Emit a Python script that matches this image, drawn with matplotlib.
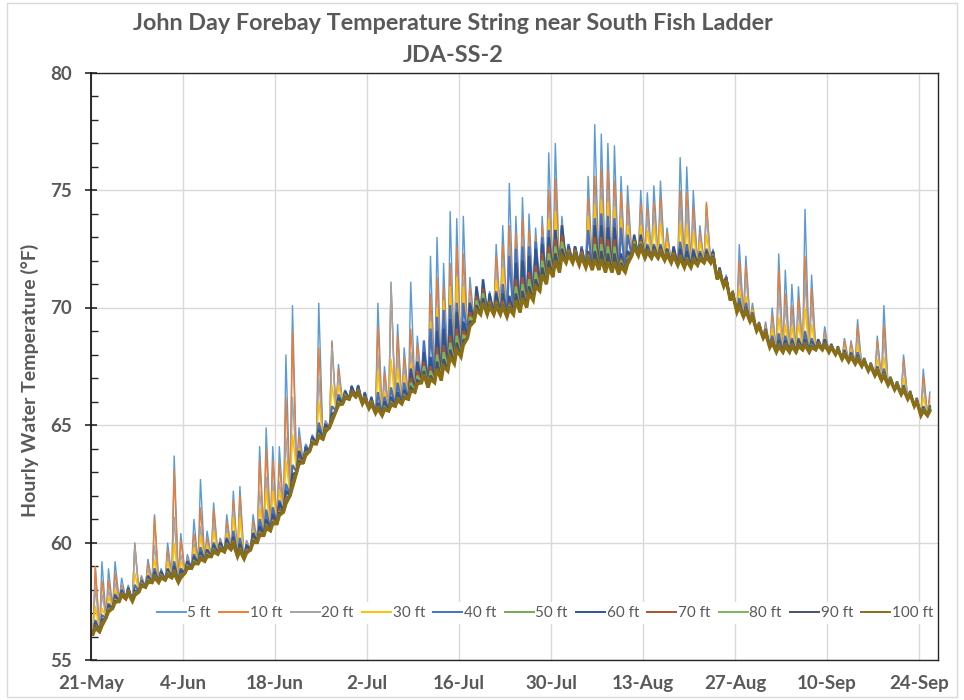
import numpy as np
import pandas as pd
import matplotlib
matplotlib.use("Agg")
import matplotlib.pyplot as plt
import matplotlib.dates as mdates
from matplotlib.patches import Rectangle

# ---------------- data ----------------
start_date = "2021-05-21"
n_days = 128

series_labels = ["5 ft", "10 ft", "20 ft", "30 ft", "40 ft", "50 ft",
                 "60 ft", "70 ft", "80 ft", "90 ft", "100 ft"]
series_colors = ["#5B9BD5", "#ED7D31", "#A5A5A5", "#FFC000", "#4472C4", "#70AD47",
                 "#2F5597", "#A9532A", "#7CB65A", "#44546A", "#8B6D14"]

# daily night-time (minimum) temperature, deg F
t_base = [56.1, 56.2, 56.8, 57.2, 57.5, 57.6, 57.5, 57.9, 58.1, 58.3,
          58.3, 58.4, 58.5, 58.3, 58.7, 58.9, 59.1, 59.2, 59.4, 59.5,
          59.6, 59.7, 59.4, 59.3, 59.7, 60.0, 60.3, 60.5, 60.8, 61.3,
          62.0, 63.0, 63.4, 63.9, 64.2, 64.4, 64.9, 65.6, 65.9, 66.1,
          66.2, 65.9, 65.7, 65.5, 65.4, 65.6, 65.8, 65.9, 66.1, 66.4,
          66.8, 66.6, 66.8, 66.9, 67.3, 67.6, 67.9, 68.7, 69.4, 69.7,
          69.7, 69.7, 69.7, 69.6, 69.7, 69.8, 70.0, 70.3, 70.7, 71.0,
          71.3, 71.5, 71.9, 71.9, 71.8, 71.7, 71.6, 71.6, 71.5, 71.5,
          71.4, 71.5, 72.2, 72.2, 72.1, 72.1, 72.1, 72.0, 71.9, 71.8,
          71.7, 71.7, 71.8, 71.9, 71.9, 71.2, 70.9, 70.3, 69.8, 69.6,
          69.4, 69.0, 68.7, 68.3, 68.1, 68.1, 68.1, 68.1, 68.2, 68.1,
          68.2, 68.2, 68.1, 68.0, 67.8, 67.7, 67.6, 67.5, 67.3, 67.1,
          66.9, 66.7, 66.5, 66.3, 66.1, 65.8, 65.4, 65.4]

# daily afternoon rise above the night value, deg F (shallow sensors, daily)
rise_5ft = [2.8, 3.0, 2.1, 2.0, 1.0, 0.6, 2.5, 0.7, 1.2, 2.9,
            0.6, 1.6, 5.2, 2.1, 0.8, 2.1, 3.6, 1.3, 2.3, 0.7,
            1.6, 2.5, 3.0, 0.8, 1.5, 4.1, 4.6, 3.6, 3.3, 6.7,
            8.1, 1.9, 0.8, 0.7, 6.0, 0.8, 3.7, 2.0, 0.6, 0.6,
            0.5, 0.5, 0.5, 4.7, 2.1, 5.5, 3.5, 2.4, 5.0, 2.4,
            1.2, 5.6, 6.2, 5.0, 6.8, 6.2, 6.0, 2.6, 0.8, 0.7,
            1.0, 3.0, 3.8, 5.7, 4.2, 4.9, 4.0, 3.1, 3.2, 5.6,
            5.7, 2.4, 0.8, 0.7, 0.8, 3.9, 6.2, 5.8, 5.5, 5.4,
            4.2, 3.7, 0.8, 2.8, 2.8, 3.1, 3.3, 1.4, 0.6, 4.6,
            4.3, 3.3, 1.7, 2.5, 0.6, 0.5, 0.5, 0.4, 2.9, 2.6,
            0.8, 0.4, 0.7, 1.7, 4.2, 3.5, 2.9, 2.8, 6.0, 3.3,
            0.4, 1.0, 0.3, 0.3, 0.9, 0.9, 1.9, 0.3, 0.3, 1.7,
            3.2, 0.3, 0.3, 1.7, 0.3, 0.3, 2.0, 1.0]

rise_10ft = [2.9, 2.2, 1.6, 1.5, 0.7, 0.5, 2.4, 0.6, 1.0, 2.8,
             0.5, 1.3, 4.6, 1.8, 0.6, 1.5, 2.4, 1.0, 2.0, 0.6,
             1.3, 2.1, 2.6, 0.7, 1.2, 3.5, 3.7, 3.0, 2.6, 4.9,
             7.0, 1.5, 0.7, 0.6, 4.1, 0.7, 3.6, 1.8, 0.5, 0.5,
             0.4, 0.4, 0.5, 3.7, 1.8, 5.3, 3.0, 2.0, 3.0, 2.0,
             1.1, 4.0, 4.5, 4.0, 4.6, 5.0, 4.4, 2.2, 0.7, 0.6,
             0.9, 2.5, 3.0, 3.9, 3.5, 4.0, 3.3, 2.7, 2.8, 4.0,
             4.2, 2.1, 0.7, 0.6, 0.7, 3.0, 4.0, 4.3, 4.4, 3.9,
             3.5, 3.0, 0.7, 2.2, 2.1, 2.4, 2.6, 1.2, 0.5, 3.2,
             3.2, 2.6, 1.4, 2.6, 0.5, 0.4, 0.4, 0.3, 2.2, 2.2,
             0.6, 0.3, 0.6, 1.4, 3.5, 2.5, 2.0, 2.3, 4.0, 2.7,
             0.3, 0.8, 0.3, 0.3, 0.8, 0.8, 1.6, 0.3, 0.3, 1.5,
             2.4, 0.3, 0.3, 1.5, 0.3, 0.3, 1.7, 0.8]

rise_20ft = [2.0, 1.6, 1.2, 1.1, 0.6, 0.4, 2.3, 0.5, 0.8, 1.6,
             0.4, 1.0, 2.6, 1.2, 0.5, 1.1, 1.6, 0.8, 1.5, 0.5,
             1.0, 1.7, 2.0, 0.6, 1.0, 2.2, 2.5, 2.1, 1.8, 3.2,
             4.2, 1.2, 0.6, 0.5, 2.8, 0.6, 3.4, 1.5, 0.5, 0.5,
             0.4, 0.4, 0.4, 2.5, 1.4, 5.4, 2.2, 1.6, 2.0, 1.6,
             1.0, 3.0, 3.3, 3.2, 3.5, 3.8, 3.3, 1.8, 0.6, 0.5,
             0.8, 1.9, 2.4, 3.0, 2.8, 3.2, 2.8, 2.3, 2.4, 3.0,
             3.2, 1.8, 0.6, 0.5, 0.6, 2.4, 3.2, 3.5, 3.5, 3.2,
             2.8, 2.5, 0.6, 1.8, 1.8, 2.0, 2.1, 1.0, 0.5, 2.5,
             2.6, 2.1, 1.2, 2.0, 0.4, 0.4, 0.4, 0.3, 1.6, 1.7,
             0.5, 0.3, 0.5, 1.1, 2.6, 2.0, 1.6, 1.8, 3.0, 2.0,
             0.3, 0.7, 0.3, 0.3, 0.6, 0.6, 1.2, 0.3, 0.3, 1.2,
             1.8, 0.3, 0.3, 1.2, 0.3, 0.3, 1.3, 0.6]

rise_30ft = [1.2, 1.0, 0.9, 0.8, 0.5, 0.4, 1.2, 0.5, 0.6, 1.0,
             0.4, 0.8, 1.5, 0.9, 0.5, 0.9, 1.2, 0.7, 1.1, 0.5,
             0.8, 1.4, 1.7, 0.5, 0.8, 1.5, 2.0, 1.7, 1.4, 2.2,
             2.6, 1.0, 0.6, 0.5, 1.8, 0.6, 1.8, 1.1, 0.5, 0.5,
             0.4, 0.4, 0.4, 1.8, 1.0, 2.2, 1.6, 1.2, 1.5, 1.3,
             1.0, 2.8, 3.2, 3.4, 3.6, 3.7, 3.0, 1.5, 0.6, 0.5,
             0.7, 1.5, 2.0, 2.6, 2.6, 2.8, 2.6, 2.2, 2.2, 2.8,
             2.8, 1.6, 0.6, 0.5, 0.6, 2.2, 2.8, 3.0, 3.0, 2.8,
             2.4, 2.0, 0.6, 1.3, 1.2, 1.4, 1.5, 0.8, 0.5, 1.8,
             1.8, 1.5, 1.0, 1.2, 0.4, 0.4, 0.4, 0.3, 1.0, 0.9,
             0.5, 0.3, 0.4, 0.8, 1.5, 1.2, 1.1, 1.2, 1.8, 1.2,
             0.3, 0.5, 0.3, 0.3, 0.5, 0.5, 0.8, 0.3, 0.3, 0.7,
             1.0, 0.3, 0.3, 0.7, 0.3, 0.3, 0.8, 0.5]

rise_40ft = [0.6, 0.7, 0.6, 0.6, 0.5, 0.5, 0.7, 0.5, 0.5, 0.6,
             0.5, 0.5, 0.7, 0.6, 0.5, 0.6, 0.7, 0.5, 0.6, 0.5,
             0.6, 0.8, 0.8, 0.6, 0.7, 1.0, 1.1, 1.0, 1.0, 1.2,
             1.3, 0.8, 0.7, 0.6, 0.9, 0.6, 0.9, 0.7, 0.5, 0.5,
             0.5, 0.5, 0.5, 0.9, 0.8, 1.0, 1.0, 0.9, 1.1, 1.2,
             1.8, 2.5, 2.8, 3.0, 2.8, 2.6, 2.3, 1.4, 0.6, 0.6,
             0.7, 1.0, 1.3, 2.6, 2.8, 2.8, 2.6, 2.5, 2.3, 2.3,
             2.0, 1.3, 0.8, 0.7, 0.8, 1.6, 2.2, 2.4, 2.4, 2.3,
             2.0, 1.6, 0.5, 0.6, 0.6, 0.6, 0.6, 0.5, 0.5, 1.0,
             1.0, 0.8, 0.6, 0.6, 0.5, 0.4, 0.4, 0.3, 0.6, 0.6,
             0.4, 0.3, 0.4, 0.5, 0.8, 0.7, 0.6, 0.6, 0.8, 0.6,
             0.3, 0.4, 0.3, 0.3, 0.4, 0.4, 0.5, 0.3, 0.3, 0.4,
             0.5, 0.3, 0.3, 0.4, 0.3, 0.3, 0.4, 0.4]

# deeper sensors: afternoon rise in 4-day blocks (32 blocks)
rise_50ft = [0.45, 0.4, 0.4, 0.45, 0.45, 0.5, 0.6, 0.8, 0.55, 0.5, 0.4, 0.55, 1.1, 1.9, 1.3, 0.8,
             1.9, 1.8, 0.65, 1.7, 0.8, 0.45, 0.6, 0.45, 0.35, 0.3, 0.45, 0.4, 0.3, 0.3, 0.3, 0.3]
rise_60ft = [0.5, 0.45, 0.45, 0.5, 0.5, 0.55, 0.7, 0.9, 0.6, 0.55, 0.45, 0.6, 1.3, 2.2, 1.5, 0.9,
             2.2, 2.0, 0.7, 1.9, 0.9, 0.5, 0.7, 0.5, 0.4, 0.35, 0.5, 0.45, 0.35, 0.35, 0.35, 0.35]
rise_70ft = [0.4, 0.4, 0.35, 0.35, 0.35, 0.4, 0.5, 0.6, 0.45, 0.4, 0.35, 0.4, 0.9, 1.5, 1.1, 0.6,
             1.5, 1.6, 0.6, 1.4, 0.7, 0.4, 0.45, 0.4, 0.35, 0.35, 0.4, 0.35, 0.3, 0.3, 0.3, 0.3]
rise_80ft = [0.35, 0.35, 0.3, 0.3, 0.3, 0.35, 0.4, 0.5, 0.4, 0.35, 0.3, 0.35, 0.7, 1.2, 0.9, 0.5,
             1.2, 1.3, 0.5, 1.1, 0.6, 0.35, 0.4, 0.35, 0.3, 0.3, 0.35, 0.3, 0.3, 0.3, 0.3, 0.3]
rise_90ft = [0.3, 0.3, 0.25, 0.25, 0.25, 0.3, 0.35, 0.45, 0.35, 0.3, 0.25, 0.3, 0.5, 0.9, 0.7, 0.45,
             0.9, 1.0, 0.45, 0.8, 0.5, 0.3, 0.35, 0.3, 0.3, 0.25, 0.3, 0.25, 0.25, 0.25, 0.25, 0.25]
rise_100ft = [0.25, 0.25, 0.2, 0.2, 0.2, 0.25, 0.3, 0.35, 0.3, 0.25, 0.2, 0.25, 0.35, 0.6, 0.5, 0.35,
              0.6, 0.7, 0.35, 0.45, 0.35, 0.25, 0.3, 0.25, 0.25, 0.2, 0.25, 0.2, 0.2, 0.2, 0.2, 0.2]

y_ticks = [55, 60, 65, 70, 75, 80]
x_tick_labels = ["21-May", "4-Jun", "18-Jun", "2-Jul", "16-Jul",
                 "30-Jul", "13-Aug", "27-Aug", "10-Sep", "24-Sep"]

title_lines = ["John Day Forebay Temperature String near South Fish Ladder", "JDA-SS-2"]
y_title = "Hourly Water Temperature (\u00b0F)"

# ---------------- build series ----------------
daily_rises = [rise_5ft, rise_10ft, rise_20ft, rise_30ft, rise_40ft]
block_rises = [rise_50ft, rise_60ft, rise_70ft, rise_80ft, rise_90ft, rise_100ft]
all_rises = [np.asarray(r, float) for r in daily_rises] + \
            [np.repeat(np.asarray(r, float), 4)[:n_days] for r in block_rises]
line_widths = [1.0, 1.0, 1.0, 1.1, 1.6, 1.6, 1.7, 1.6, 1.6, 1.8, 2.4]

dates = pd.date_range(start_date, periods=n_days, freq="D")
day_num = mdates.date2num(dates.to_pydatetime())
base = np.asarray(t_base, float)

# ---------------- figure ----------------
FONT = ["Lato", "DejaVu Sans"]
plt.rcParams["font.family"] = FONT
TXT = "#595959"

fig = plt.figure(figsize=(9.64, 7.0), dpi=100)
fig.patch.set_facecolor("white")
fig.add_artist(Rectangle((7 / 964, 3 / 700), 950 / 964, 694 / 700, transform=fig.transFigure,
                         fill=False, edgecolor="#D9D9D9", lw=1.0))

ax = fig.add_axes([91 / 964, 40 / 700, 847 / 964, 587.5 / 700])

handles = []
for lab, col, rise, lw in zip(series_labels, series_colors, all_rises, line_widths):
    t = np.column_stack([day_num + 0.30, day_num + 0.66]).ravel()
    v = np.column_stack([base, base + rise]).ravel()
    h, = ax.plot(t, v, color=col, lw=lw, label=lab, solid_joinstyle="miter")
    handles.append(h)

ax.set_ylim(y_ticks[0], y_ticks[-1])
ax.set_yticks(y_ticks)
ax.set_yticks(np.arange(y_ticks[0], y_ticks[-1] + 1, 1), minor=True)
ax.set_yticklabels([str(v) for v in y_ticks])

tick_dates = pd.date_range(start_date, periods=len(x_tick_labels), freq="14D")
ax.set_xticks(mdates.date2num(tick_dates.to_pydatetime()))
ax.set_xticklabels(x_tick_labels)
ax.set_xlim(day_num[0], day_num[0] + 128.9)

ax.grid(True, which="major", color="#D9D9D9", lw=1.0)
ax.set_axisbelow(True)

for s in ["top", "right", "bottom"]:
    ax.spines[s].set_color("#262626")
    ax.spines[s].set_linewidth(1.0)
ax.spines["left"].set_color("#1a1a1a")
ax.spines["left"].set_linewidth(1.3)

ax.tick_params(axis="y", which="major", direction="inout", length=9, width=1.2,
               color="#262626", labelsize=13.5, labelcolor=TXT, pad=9.5)
ax.tick_params(axis="y", which="minor", direction="in", length=5, width=1.0, color="#262626")
ax.tick_params(axis="x", which="major", length=0, labelsize=13.5, labelcolor=TXT, pad=11)
for lbl in ax.get_xticklabels() + ax.get_yticklabels():
    lbl.set_fontweight("bold")

leg = ax.legend(handles=handles, ncol=11, loc="center", bbox_to_anchor=(0.536, 0.08),
                frameon=True, fancybox=False, framealpha=1.0, facecolor="white",
                edgecolor="none", handlelength=1.9, handletextpad=0.1, columnspacing=0.55,
                borderpad=0.25, prop={"family": FONT, "size": 11}, labelcolor=TXT)
for lh in leg.get_lines():
    lh.set_linewidth(1.4)

fig.text(453 / 964, 1 - 24 / 700, title_lines[0], ha="center", va="center",
         fontsize=16.8, fontweight="bold", color=TXT)
fig.text(453 / 964, 1 - 56 / 700, title_lines[1], ha="center", va="center",
         fontsize=16.8, fontweight="bold", color=TXT)
fig.text(30 / 964, 1 - 380 / 700, y_title, ha="center", va="center", rotation=90,
         fontsize=14, fontweight="bold", color=TXT)

fig.savefig("out.png", dpi=100, facecolor="white")
